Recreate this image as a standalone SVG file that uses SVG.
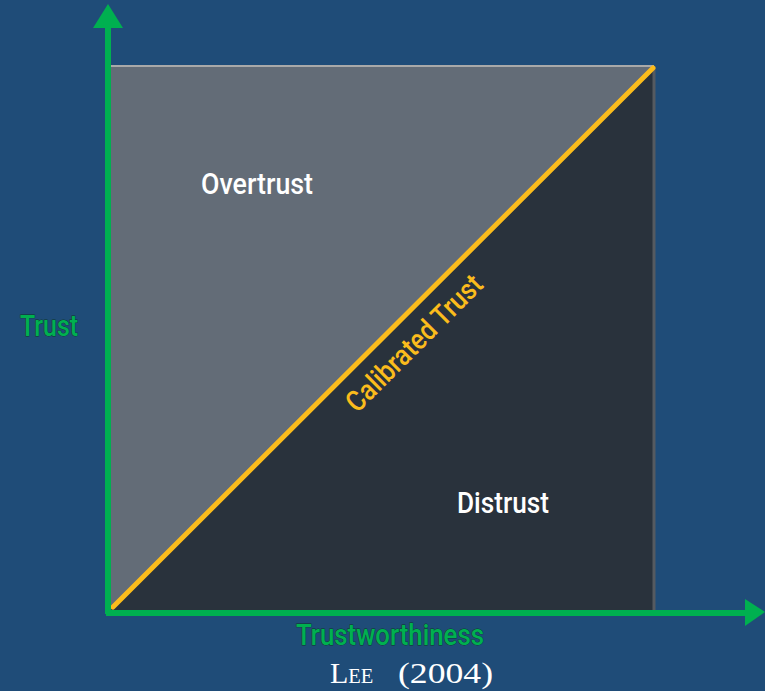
<svg xmlns="http://www.w3.org/2000/svg" width="765" height="691" viewBox="0 0 765 691">
<style>
.lbl{font-family:Roboto,"Liberation Sans",sans-serif;font-weight:500;}
.axis{fill:#00b050;stroke:#0a3a2a;stroke-width:0.8;paint-order:stroke;}
</style>
<rect width="765" height="691" fill="#1f4c78"/>
<g id="chart">
<polygon points="110,66 655,66 110,611" fill="#636c77"/>
<polygon points="655,66 655,611 110,611" fill="#29323c"/>
<line x1="110" y1="66" x2="654" y2="66" stroke="#a9a9a9" stroke-width="2"/>
<line x1="654" y1="66" x2="654" y2="611" stroke="#555a60" stroke-width="3"/>
</g>
<g id="connectors">
<line id="calibrated-line" x1="113" y1="607" x2="653" y2="68" stroke="#fbbc1c" stroke-width="5" stroke-linecap="round"/>
<line x1="108" y1="614" x2="108" y2="26" stroke="#00b050" stroke-width="6"/>
<polygon points="108,4 93,28 123,28" fill="#00b050"/>
<line x1="106" y1="613" x2="747" y2="613" stroke="#00b050" stroke-width="6"/>
<polygon points="765,612 745,599 745,626" fill="#00b050"/>
</g>
<g id="overtrust"><text class="lbl" x="201" y="194" font-size="30" fill="#ffffff" textLength="112" lengthAdjust="spacingAndGlyphs">Overtrust</text></g>
<g id="distrust"><text class="lbl" x="457" y="513" font-size="30" fill="#ffffff" textLength="92" lengthAdjust="spacingAndGlyphs">Distrust</text></g>
<g id="calibrated"><text class="lbl" transform="translate(421,350) rotate(-45)" x="0" y="0" text-anchor="middle" font-size="29" fill="#fbbc1c" textLength="180" lengthAdjust="spacingAndGlyphs">Calibrated Trust</text></g>
<g id="trust-axis"><text class="lbl axis" x="20" y="336" font-size="29" textLength="58" lengthAdjust="spacingAndGlyphs">Trust</text></g>
<g id="trustworthiness-axis"><text class="lbl axis" x="296" y="645" font-size="29" textLength="188" lengthAdjust="spacingAndGlyphs">Trustworthiness</text></g>
<g id="citation"><text y="683" font-family="'Liberation Serif',serif" fill="#ffffff" font-size="30"><tspan x="330">L</tspan><tspan font-size="22" textLength="25" lengthAdjust="spacingAndGlyphs">EE</tspan><tspan x="398" textLength="95" lengthAdjust="spacingAndGlyphs">(2004)</tspan></text></g>
</svg>
